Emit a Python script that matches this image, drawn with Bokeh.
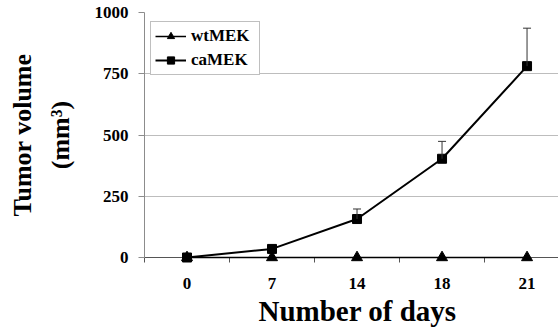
from bokeh.plotting import figure
from bokeh.models import (Range1d, FixedTicker, Legend, LegendItem, Whisker,
                          TeeHead, ColumnDataSource, Title)
from bokeh.embed import file_html
from bokeh.resources import INLINE

# ---- data ----
days = ["0", "7", "14", "18", "21"]
wt_mek = [0, 0, 0, 0, 0]
ca_mek = [0, 35, 157, 403, 781]
ca_err = [0, 0, 41, 71, 155]
y_ticks = [0, 250, 500, 750, 1000]

x = [i + 0.5 for i in range(len(days))]
FONT = "Liberation Serif"

p = figure(width=558, height=332, output_backend="svg", toolbar_location=None,
           x_range=Range1d(0, 4.87), y_range=Range1d(0, 1000),
           min_border_left=144, min_border_right=0, min_border_top=12,
           min_border_bottom=75)
p.outline_line_color = None
p.background_fill_color = "white"
p.border_fill_color = "white"

# grid
p.xgrid.grid_line_color = None
p.ygrid.ticker = FixedTicker(ticks=y_ticks[1:])
p.ygrid.grid_line_color = "#bdbdbd"
p.ygrid.grid_line_width = 1

# y axis
ya = p.yaxis[0]
ya.ticker = FixedTicker(ticks=y_ticks, minor_ticks=[])
ya.axis_line_color = "#8c8c8c"
ya.major_tick_line_color = "#8c8c8c"
ya.major_tick_out = 6
ya.major_tick_in = 0
ya.minor_tick_out = 0
ya.minor_tick_in = 0
ya.major_label_standoff = 10
ya.major_label_text_font = FONT
ya.major_label_text_font_style = "bold"
ya.major_label_text_font_size = "17px"
ya.major_label_text_color = "black"
ya.axis_label = "Tumor volume\n(mm³)"
ya.axis_label_text_font = FONT
ya.axis_label_text_font_style = "bold"
ya.axis_label_text_font_size = "26px"
ya.axis_label_text_color = "black"
ya.axis_label_text_line_height = 1.28
ya.axis_label_standoff = 17

# x axis (categorical look on a numeric scale)
xa = p.xaxis[0]
xa.ticker = FixedTicker(ticks=x, minor_ticks=list(range(len(days))))
xa.major_label_overrides = {xi: d for xi, d in zip(x, days)}
xa.axis_line_color = "#555555"
xa.major_tick_line_color = None
xa.major_tick_out = 0
xa.major_tick_in = 0
xa.minor_tick_line_color = "#555555"
xa.minor_tick_out = 5
xa.minor_tick_in = 0
xa.major_label_standoff = 15
xa.major_label_text_font = FONT
xa.major_label_text_font_style = "bold"
xa.major_label_text_font_size = "17px"
xa.major_label_text_color = "black"

# x-axis title (as a title below, shifted to sit under the cropped band)
xtitle = Title(text="Number of days", align="left", offset=114,
               text_font=FONT, text_font_style="bold",
               text_font_size="29px", text_color="black", standoff=2)
p.add_layout(xtitle, "below")

# error bars (upper only)
ex = [xi for xi, e in zip(x, ca_err) if e > 0]
elo = [v for v, e in zip(ca_mek, ca_err) if e > 0]
ehi = [v + e for v, e in zip(ca_mek, ca_err) if e > 0]
esrc = ColumnDataSource(dict(base=ex, lower=elo, upper=ehi))
w = Whisker(source=esrc, base="base", lower="lower", upper="upper",
            line_color="#333333", line_width=1,
            upper_head=TeeHead(size=8, line_color="#333333", line_width=1),
            lower_head=None, level="annotation")
p.add_layout(w)

# series
l_wt = p.line(x, wt_mek, line_color="black", line_width=1.5, level="annotation")
s_wt = p.scatter(x, wt_mek, marker="triangle", size=11, color="black",
                 level="annotation")
l_ca = p.line(x, ca_mek, line_color="black", line_width=2, level="annotation")
s_ca = p.scatter(x, ca_mek, marker="square", size=9, color="black",
                 level="annotation")

legend = Legend(items=[LegendItem(label="wtMEK", renderers=[l_wt, s_wt]),
                       LegendItem(label="caMEK", renderers=[l_ca, s_ca])],
                location=(6, 182))
legend.border_line_color = "#808080"
legend.border_line_width = 1
legend.background_fill_color = "white"
legend.background_fill_alpha = 1
legend.label_text_font = FONT
legend.label_text_font_style = "bold"
legend.label_text_font_size = "17px"
legend.label_text_color = "black"
legend.glyph_width = 31
legend.glyph_height = 18
legend.label_height = 18
legend.label_width = 64
legend.spacing = 4
legend.padding = 4
legend.margin = 0
legend.label_standoff = 5
p.add_layout(legend)

open("out.html", "w").write(file_html(p, INLINE))
